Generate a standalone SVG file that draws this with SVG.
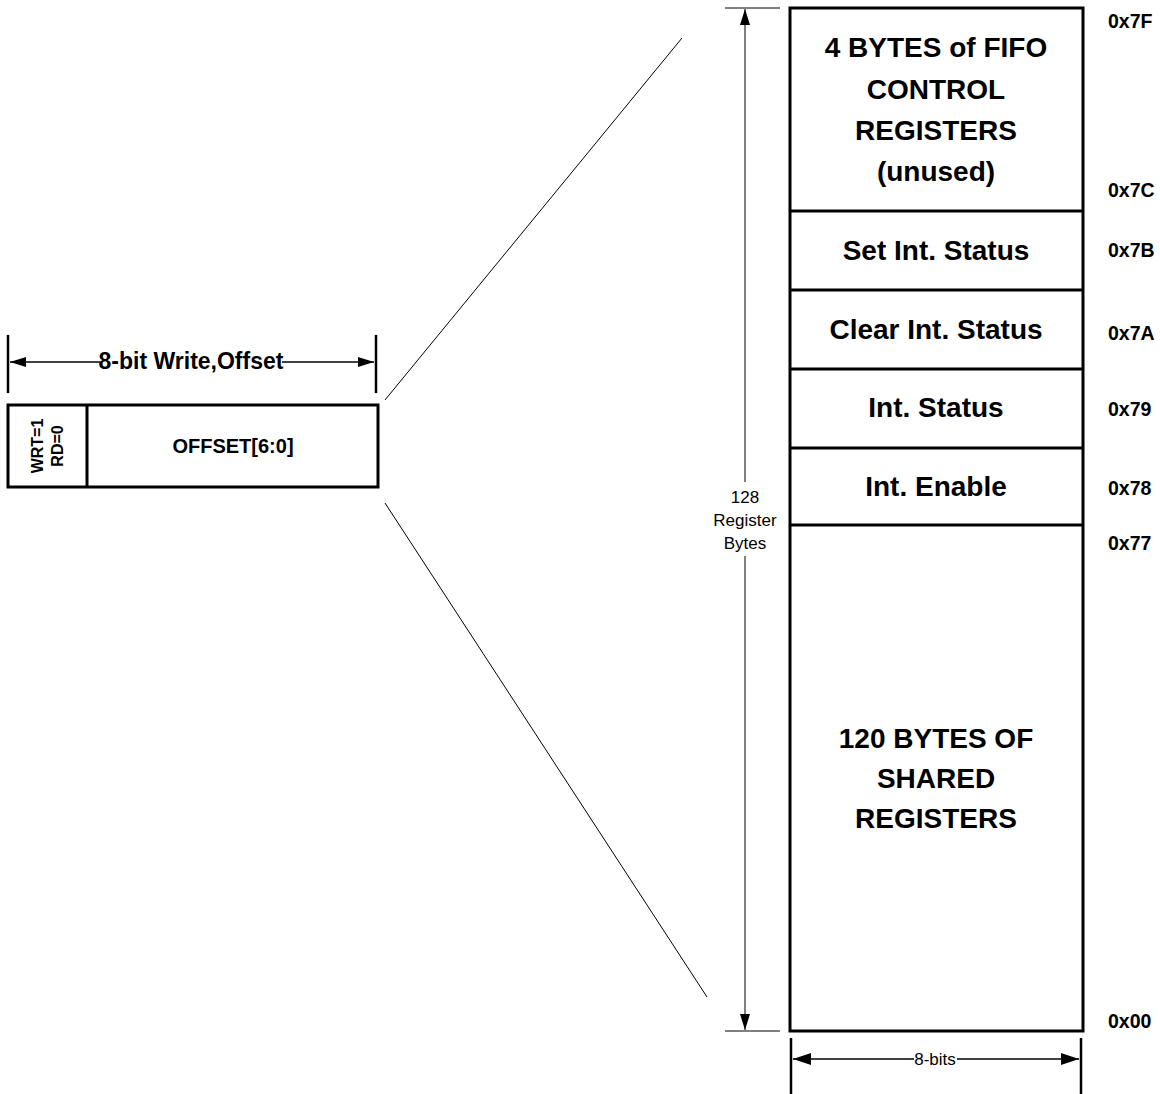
<svg xmlns="http://www.w3.org/2000/svg" width="1160" height="1094" viewBox="0 0 1160 1094">
<defs>
<marker id="ah" viewBox="0 0 16 10" refX="16" refY="5" markerWidth="16" markerHeight="10" markerUnits="userSpaceOnUse" orient="auto-start-reverse">
<path d="M0,0 L16,5 L0,10 z" fill="#000"/>
</marker>
<marker id="ahb" viewBox="0 0 18 12" refX="18" refY="6" markerWidth="18" markerHeight="12" markerUnits="userSpaceOnUse" orient="auto-start-reverse">
<path d="M0,0 L18,6 L0,12 z" fill="#000"/>
</marker>
<style>
.box{fill:#fff;stroke:#000;stroke-width:3}
.div{stroke:#000;stroke-width:3}
.thin{stroke:#000;stroke-width:1;fill:none}
.dim{stroke:#000;stroke-width:1.5;fill:none}
.tick{stroke:#000;stroke-width:2.5;fill:none}
.big{font-family:"Liberation Sans",Arial,sans-serif;font-weight:bold;font-size:28px;text-anchor:middle;fill:#000}
.mid{font-family:"Liberation Sans",Arial,sans-serif;font-weight:bold;text-anchor:middle;fill:#000}
.addr{font-family:"Liberation Sans",Arial,sans-serif;font-weight:bold;font-size:19.5px;fill:#000}
.small{font-family:"Liberation Sans",Arial,sans-serif;font-size:17px;text-anchor:middle;fill:#000}
</style>
</defs>
<rect width="1160" height="1094" fill="#fff"/>

<g id="connectors">
<line class="thin" x1="385" y1="400" x2="682" y2="38"/>
<line class="thin" x1="385" y1="503" x2="707" y2="997"/>
<!-- 8-bit write dimension -->
<line class="tick" x1="8" y1="335" x2="8" y2="393"/>
<line class="tick" x1="376" y1="335" x2="376" y2="393"/>
<line class="dim" x1="10" y1="362" x2="100" y2="362" marker-start="url(#ah)"/>
<line class="dim" x1="282" y1="362" x2="374" y2="362" marker-end="url(#ah)"/>
<!-- 128 bytes dimension -->
<line class="thin" x1="725" y1="8" x2="780" y2="8"/>
<line class="thin" x1="725" y1="1031" x2="780" y2="1031"/>
<line class="thin" x1="745" y1="9" x2="745" y2="482" marker-start="url(#ah)"/>
<line class="thin" x1="745" y1="556" x2="745" y2="1030" marker-end="url(#ah)"/>
<!-- 8-bits dimension -->
<line class="tick" x1="791" y1="1038" x2="791" y2="1094"/>
<line class="tick" x1="1081" y1="1038" x2="1081" y2="1094"/>
<line class="dim" x1="793" y1="1059" x2="914" y2="1059" marker-start="url(#ahb)"/>
<line class="dim" x1="957" y1="1059" x2="1079" y2="1059" marker-end="url(#ahb)"/>
</g>

<g id="labels">
<text class="mid" font-size="23" x="191" y="369">8-bit Write,Offset</text>
<text class="small" x="745" y="503">128</text>
<text class="small" x="745" y="526">Register</text>
<text class="small" x="745" y="549">Bytes</text>
<text class="small" x="935" y="1065">8-bits</text>
</g>

<g id="write-offset">
<rect class="box" x="8" y="405" width="370" height="82"/>
<line class="div" x1="87" y1="405" x2="87" y2="487"/>
<text class="mid" font-size="16" transform="translate(43,446) rotate(-90)">WRT=1</text>
<text class="mid" font-size="16" transform="translate(63,446) rotate(-90)">RD=0</text>
<text class="mid" font-size="20" x="233" y="453">OFFSET[6:0]</text>
</g>

<g id="register-map">
<rect class="box" x="790" y="8" width="293" height="1023"/>
<line class="div" x1="790" y1="211" x2="1083" y2="211"/>
<line class="div" x1="790" y1="290" x2="1083" y2="290"/>
<line class="div" x1="790" y1="369" x2="1083" y2="369"/>
<line class="div" x1="790" y1="448" x2="1083" y2="448"/>
<line class="div" x1="790" y1="525" x2="1083" y2="525"/>
</g>

<g id="fifo">
<text class="big" x="936" y="57">4 BYTES of FIFO</text>
<text class="big" x="936" y="99">CONTROL</text>
<text class="big" x="936" y="140">REGISTERS</text>
<text class="big" x="936" y="181">(unused)</text>
</g>
<g id="set-int"><text class="big" x="936" y="260">Set Int. Status</text></g>
<g id="clear-int"><text class="big" x="936" y="339">Clear Int. Status</text></g>
<g id="int-status"><text class="big" x="936" y="417">Int. Status</text></g>
<g id="int-enable"><text class="big" x="936" y="496">Int. Enable</text></g>
<g id="shared">
<text class="big" x="936" y="748">120 BYTES OF</text>
<text class="big" x="936" y="788">SHARED</text>
<text class="big" x="936" y="828">REGISTERS</text>
</g>

<g id="addresses">
<text class="addr" x="1108" y="28">0x7F</text>
<text class="addr" x="1108" y="197">0x7C</text>
<text class="addr" x="1108" y="257">0x7B</text>
<text class="addr" x="1108" y="340">0x7A</text>
<text class="addr" x="1108" y="416">0x79</text>
<text class="addr" x="1108" y="495">0x78</text>
<text class="addr" x="1108" y="550">0x77</text>
<text class="addr" x="1108" y="1028">0x00</text>
</g>
</svg>
